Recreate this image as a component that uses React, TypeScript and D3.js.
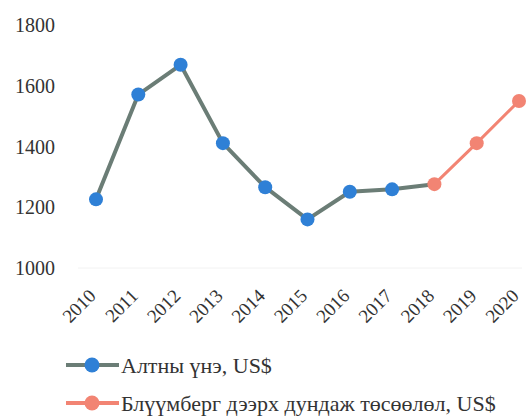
import React from "react";
import * as d3 from "d3";

const years = ["2010","2011","2012","2013","2014","2015","2016","2017","2018","2019","2020"];
const goldYears = ["2010","2011","2012","2013","2014","2015","2016","2017","2018"];
const goldValues = [1226, 1571, 1669, 1411, 1266, 1160, 1251, 1259, 1276];
const forecastYears = ["2018","2019","2020"];
const forecastValues = [1276, 1411, 1550];
const yTicks = [1000, 1200, 1400, 1600, 1800];
const legendLabels = ["Алтны үнэ, US$", "Блүүмберг дээрх дундаж төсөөлөл, US$"];

const W = 526, H = 416;
const FONT = "'Liberation Serif', 'Times New Roman', serif";
const GREY = "#6b7d76";
const BLUE = "#2f80d6";
const SALMON = "#f28473";

export default function App() {
  const x = d3.scalePoint<string>().domain(years).range([96, 519]);
  const y = d3.scaleLinear().domain([1000, 1800]).range([268, 25]);
  const line = d3.line<[string, number]>().x(d => x(d[0])!).y(d => y(d[1]));
  const gold: [string, number][] = goldYears.map((yr, i) => [yr, goldValues[i]]);
  const fc: [string, number][] = forecastYears.map((yr, i) => [yr, forecastValues[i]]);
  const legendY = [365, 403];

  return (
    <svg width={W} height={H} style={{ position: "absolute", left: 0, top: 0, background: "#fff" }} fontFamily={FONT}>
      <line x1={78} x2={522} y1={y(1000)} y2={y(1000)} stroke="#f2f2f2" strokeWidth={1} />
      {yTicks.map(t => (
        <text key={t} x={55} y={y(t)} dy="0.35em" textAnchor="end" fontSize={20} fill="#333">{t}</text>
      ))}
      {years.map(yr => (
        <text key={yr} transform={`translate(${x(yr)! + 1},297) rotate(-45)`} textAnchor="end" fontSize={19} fill="#333">{yr}</text>
      ))}
      <path d={line(gold)!} fill="none" stroke={GREY} strokeWidth={4} strokeLinejoin="round" />
      <path d={line(fc)!} fill="none" stroke={SALMON} strokeWidth={3} strokeLinejoin="round" />
      {gold.slice(0, -1).map(d => (
        <circle key={d[0]} cx={x(d[0])} cy={y(d[1])} r={7} fill={BLUE} />
      ))}
      {fc.map(d => (
        <circle key={d[0]} cx={x(d[0])} cy={y(d[1])} r={7} fill={SALMON} />
      ))}
      <g>
        <line x1={66} x2={119} y1={legendY[0]} y2={legendY[0]} stroke={GREY} strokeWidth={4} />
        <circle cx={92} cy={legendY[0]} r={7.5} fill={BLUE} />
        <text x={121} y={legendY[0]} dy="0.35em" fontSize={22} fill="#333">{legendLabels[0]}</text>
        <line x1={66} x2={119} y1={legendY[1]} y2={legendY[1]} stroke={SALMON} strokeWidth={4} />
        <circle cx={92} cy={legendY[1]} r={7.5} fill={SALMON} />
        <text x={121} y={legendY[1]} dy="0.35em" fontSize={22} fill="#333">{legendLabels[1]}</text>
      </g>
    </svg>
  );
}
